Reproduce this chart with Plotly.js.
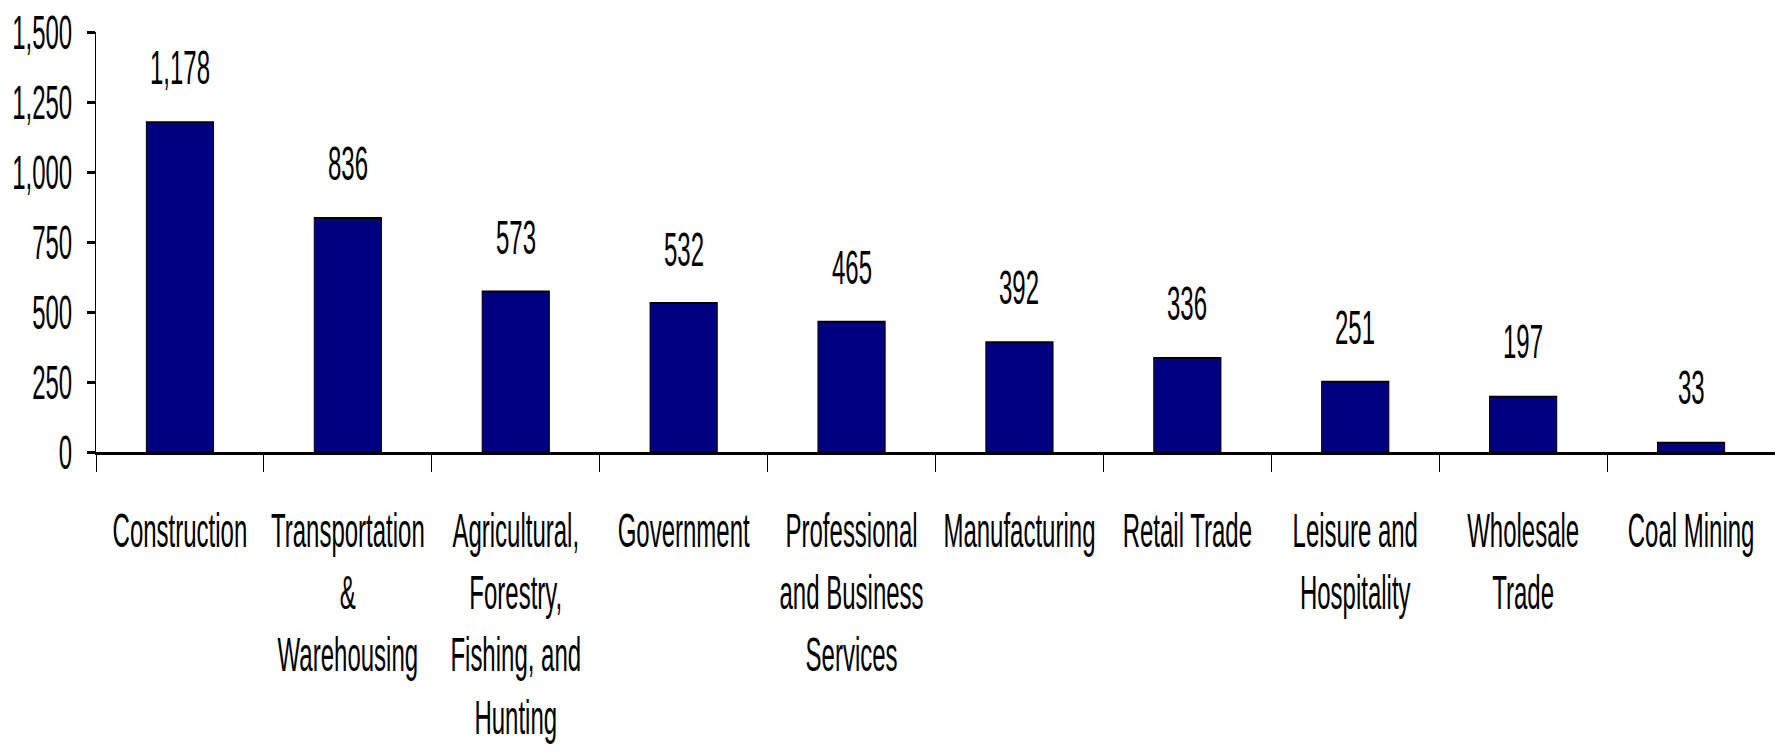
<!DOCTYPE html>
<html><head><meta charset="utf-8">
<script src="https://cdn.plot.ly/plotly-3.0.1.min.js"></script>
<style>
html,body{margin:0;padding:0;overflow:hidden;background:#fff;width:1775px;height:754px;}
#wrap{width:1775px;height:377px;transform:scaleY(2);transform-origin:0 0;}
#chart{width:1775px;height:377px;}
</style></head><body>
<div id="wrap"><div id="chart"></div></div>
<script>
const categories = ["Construction","Transportation<br>&<br>Warehousing","Agricultural,<br>Forestry,<br>Fishing, and<br>Hunting","Government","Professional<br>and Business<br>Services","Manufacturing","Retail Trade","Leisure and<br>Hospitality","Wholesale<br>Trade","Coal Mining"];
const values = [1178,836,573,532,465,392,336,251,197,33];
const yTickVals = [0,250,500,750,1000,1250,1500];
const yTickText = ["0","250","500","750","1,000","1,250","1,500"];

const fmt = v => v.toLocaleString('en-US');
const FONT = '"Liberation Sans", Arial, sans-serif';

const trace = {
  type: 'bar',
  x: categories,
  y: values,
  marker: {color: '#000080', line: {color: '#000000', width: 1}},
  hoverinfo: 'none'
};

const layout = {
  width: 1775, height: 377,
  margin: {l: 96, r: 0, t: 15.5, b: 150.5, pad: 0},
  paper_bgcolor: '#ffffff', plot_bgcolor: '#ffffff',
  font: {family: FONT, size: 24, color: '#000000'},
  showlegend: false,
  bargap: 0.6,
  xaxis: {
    type: 'category', tickson: 'boundaries', ticks: 'outside', ticklen: 8.5, tickwidth: 1,
    tickcolor: '#000', showline: true, linecolor: '#000', linewidth: 1.5,
    showgrid: false, zeroline: false, ticklabelstandoff: 17,
    tickfont: {family: FONT, size: 24, color: '#000'}, automargin: false,
    range: [-0.5, 9.5], fixedrange: true
  },
  yaxis: {
    range: [0, 1500], tickmode: 'array', tickvals: yTickVals, ticktext: yTickText,
    ticks: 'outside', ticklen: 8, tickwidth: 1.5, tickcolor: '#000',
    showline: true, linecolor: '#000', linewidth: 1,
    showgrid: false, zeroline: false, ticklabelstandoff: 10,
    tickfont: {family: FONT, size: 24, color: '#000'}, automargin: false, fixedrange: true
  },
  annotations: values.map((v, i) => ({
    x: categories[i], y: v, xref: 'x', yref: 'y', text: fmt(v), showarrow: false,
    yanchor: 'bottom', yshift: 12, font: {family: FONT, size: 24, color: '#000'}
  }))
};

Plotly.newPlot('chart', [trace], layout, {displayModeBar: false, staticPlot: true});
</script>
</body></html>
